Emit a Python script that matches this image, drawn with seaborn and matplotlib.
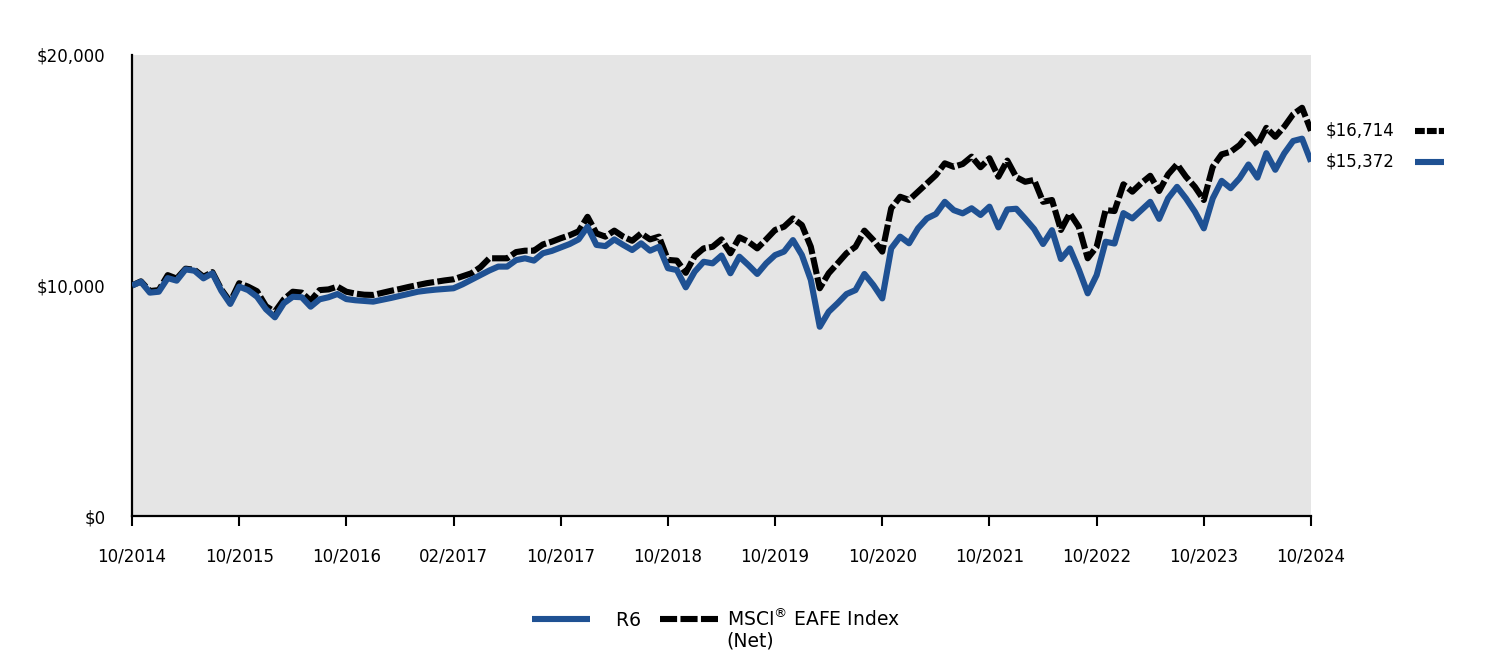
import numpy as np
import pandas as pd
import matplotlib
matplotlib.use('Agg')
import matplotlib.pyplot as plt
import matplotlib.transforms as mtransforms
from matplotlib.lines import Line2D
import seaborn as sns

sns.set_style('white')
plt.rcParams['font.family'] = ['DejaVu Sans']
plt.rcParams['text.color'] = 'black'
plt.rcParams['xtick.color'] = 'black'
plt.rcParams['ytick.color'] = 'black'
plt.rcParams['lines.solid_capstyle'] = 'butt'
plt.rcParams['lines.dash_capstyle'] = 'butt'

# growth of $10,000, one value per period (133 points)
r6 = [10000, 10160, 9690, 9730, 10320, 10210, 10700, 10640, 10310, 10530,
      9770, 9200, 9950, 9800, 9510, 8970, 8620, 9230, 9510, 9490,
      9080, 9400, 9490, 9630, 9410, 9360, 9330, 9300, 9380, 9460,
      9550, 9640, 9730, 9780, 9820, 9850, 9880, 10050, 10250, 10450,
      10650, 10820, 10820, 11100, 11180, 11080, 11400, 11500, 11650, 11800,
      12000, 12550, 11760, 11710, 12000, 11760, 11540, 11830, 11510, 11680,
      10750, 10670, 9920, 10600, 11030, 10960, 11300, 10530, 11250, 10890,
      10500, 10960, 11320, 11470, 11970, 11320, 10240, 8210, 8860, 9230,
      9630, 9800, 10500, 10020, 9440, 11610, 12120, 11830, 12480, 12910,
      13100, 13630, 13270, 13130, 13350, 13060, 13420, 12520, 13300, 13330,
      12900, 12450, 11800, 12400, 11150, 11610, 10700, 9660, 10450, 11900,
      11820, 13140, 12910, 13270, 13630, 12890, 13780, 14280, 13780, 13200,
      12480, 13780, 14540, 14220, 14650, 15250, 14680, 15740, 15020, 15730,
      16270, 16370, 15372]

msci = [10000, 10180, 9760, 9800, 10450, 10300, 10730, 10680, 10380, 10580,
        9830, 9290, 10100, 9950, 9750, 9100, 8860, 9400, 9730, 9690,
        9340, 9800, 9830, 9950, 9730, 9650, 9600, 9590, 9680, 9770,
        9850, 9940, 10020, 10100, 10160, 10220, 10270, 10400, 10530, 10790,
        11180, 11180, 11180, 11450, 11510, 11510, 11780, 11900, 12050, 12180,
        12350, 12980, 12260, 12120, 12380, 12120, 11940, 12260, 12000, 12120,
        11110, 11080, 10550, 11280, 11610, 11680, 12000, 11400, 12090, 11900,
        11610, 12000, 12410, 12550, 12910, 12620, 11680, 9880, 10530, 10960,
        11400, 11680, 12380, 11970, 11470, 13350, 13850, 13710, 14070, 14430,
        14790, 15300, 15150, 15270, 15590, 15130, 15520, 14720, 15420, 14700,
        14500, 14580, 13630, 13710, 12410, 13130, 12550, 11180, 11680, 13270,
        13230, 14390, 14070, 14440, 14760, 14100, 14820, 15260, 14720, 14280,
        13710, 15150, 15690, 15800, 16090, 16560, 16090, 16840, 16450, 16890,
        17430, 17710, 16714]

tick_labels = ['10/2014', '10/2015', '10/2016', '02/2017', '10/2017', '10/2018',
               '10/2019', '10/2020', '10/2021', '10/2022', '10/2023', '10/2024']

blue = '#1f5193'
bg = '#e5e5e5'

df = pd.DataFrame({'step': np.arange(len(r6)), 'R6': r6, 'MSCI': msci})

fig = plt.figure(figsize=(14.88, 6.6), dpi=100)
ax = fig.add_axes([132/1488, 1-516/660, (1311-132)/1488, (516-55)/660])
ax.set_facecolor(bg)

lw = 4.4
dash = (2.8, 0.55)
sns.lineplot(data=df, x='step', y='MSCI', ax=ax, color='black', linewidth=lw,
             zorder=2)
ax.lines[-1].set_dashes(dash)
sns.lineplot(data=df, x='step', y='R6', ax=ax, color=blue, linewidth=lw, zorder=3)

ax.set_xlim(0, len(r6) - 1)
ax.set_ylim(0, 20000)
ax.set_yticks([0, 10000, 20000])
ax.set_yticklabels(['$0', '$10,000', '$20,000'])
ax.set_xticks(np.arange(0, len(r6), 12))
ax.set_xticklabels(tick_labels)
ax.set_xlabel('')
ax.set_ylabel('')
ax.tick_params(axis='y', length=0, pad=19, labelsize=12)
ax.tick_params(axis='x', length=7, width=1.5, pad=16, labelsize=12, direction='out',
               bottom=True)
for s in ['top', 'right']:
    ax.spines[s].set_visible(False)
for s in ['left', 'bottom']:
    ax.spines[s].set_color('black')
    ax.spines[s].set_linewidth(1.6)

# end-value labels on the right
trans = mtransforms.blended_transform_factory(ax.transAxes, ax.transData)
for val, col, is_dash in [(msci[-1], 'black', True), (r6[-1], blue, False)]:
    ax.text(1.012, val, '${:,.0f}'.format(val), transform=trans, ha='left', va='center',
            fontsize=12)
    ln = Line2D([1.088, 1.113], [val, val], transform=trans, color=col, linewidth=lw,
                clip_on=False)
    if is_dash:
        ln.set_dashes((1.6, 0.35))
    ax.add_line(ln)

handles = [Line2D([], [], color=blue, linewidth=lw),
           Line2D([], [], color='black', linewidth=lw, dashes=(2.8, 0.55))]
leg = fig.legend(handles, ['   R6', 'MSCI$^{®}$ EAFE Index'], loc='upper center',
                 bbox_to_anchor=(0.481, 0.105), ncol=2, frameon=False, fontsize=13.5,
                 handlelength=3.1, handletextpad=0.45, columnspacing=1.0)

fig.canvas.draw()
bb = leg.get_texts()[1].get_window_extent()
fig.text(bb.x0 / fig.bbox.width, (bb.y0 - 2) / fig.bbox.height, '(Net)',
         ha='left', va='top', fontsize=13.5)

fig.savefig('out.png', dpi=100)
